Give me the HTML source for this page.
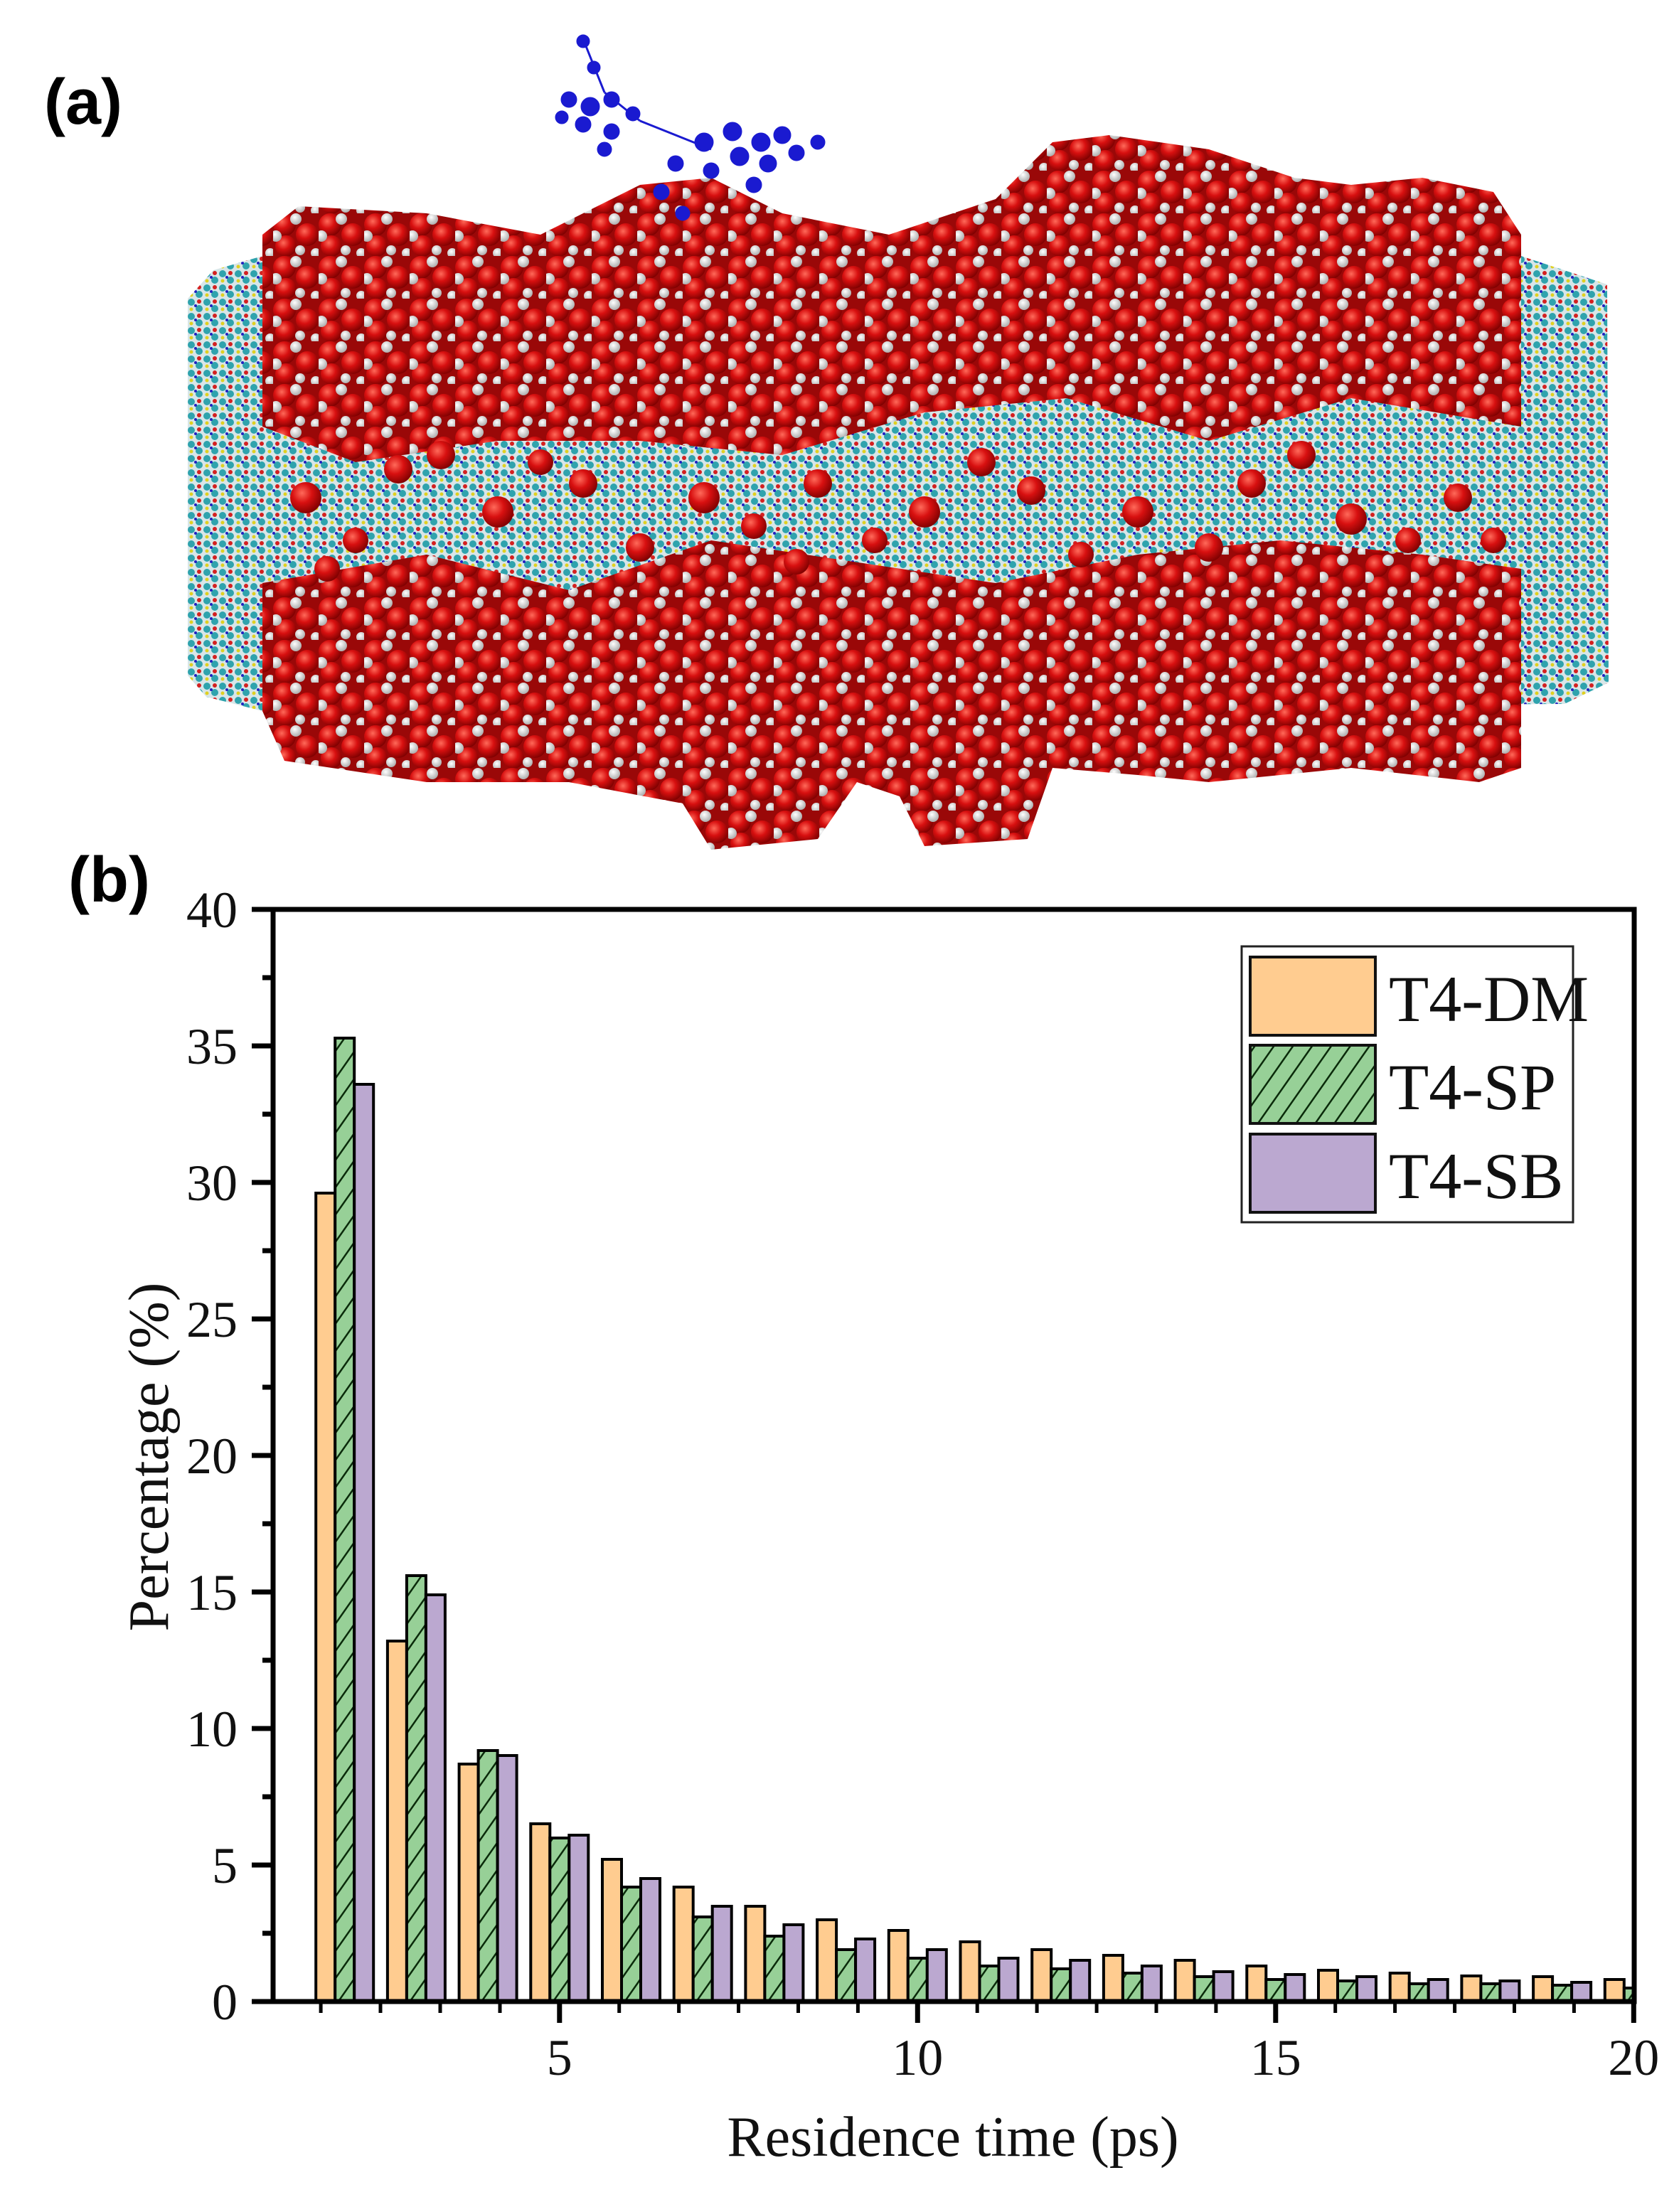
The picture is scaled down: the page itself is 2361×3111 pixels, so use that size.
<!DOCTYPE html>
<html><head><meta charset="utf-8"><style>
html,body{margin:0;padding:0;background:#fff;}
svg{display:block;}
</style></head><body>
<svg width="2361" height="3111" viewBox="0 0 2361 3111" xmlns="http://www.w3.org/2000/svg">
<defs>
<radialGradient id="rg" cx="0.38" cy="0.35" r="0.7">
<stop offset="0" stop-color="#ff6a5a"/><stop offset="0.45" stop-color="#d81010"/><stop offset="1" stop-color="#7a0000"/>
</radialGradient>
<radialGradient id="wg" cx="0.4" cy="0.35" r="0.7">
<stop offset="0" stop-color="#ffffff"/><stop offset="1" stop-color="#a8a8a8"/>
</radialGradient>
<pattern id="water" width="64" height="60" patternUnits="userSpaceOnUse">
<rect width="64" height="60" fill="#9a0808"/>
<circle cx="16" cy="16" r="16" fill="url(#rg)"/>
<circle cx="48" cy="30" r="16" fill="url(#rg)"/>
<circle cx="18" cy="46" r="15" fill="url(#rg)"/>
<circle cx="32" cy="8" r="8" fill="url(#wg)"/>
<circle cx="4" cy="32" r="8" fill="url(#wg)"/>
<circle cx="38" cy="52" r="7" fill="url(#wg)"/>
<circle cx="60" cy="56" r="7" fill="url(#wg)"/>
</pattern>
<pattern id="lipid" width="22" height="20" patternUnits="userSpaceOnUse">
<rect width="22" height="20" fill="#d8e6e8"/>
<circle cx="5" cy="5" r="5" fill="#2fa3ad"/>
<circle cx="16" cy="14" r="5" fill="#2fa3ad"/>
<circle cx="16" cy="4" r="3" fill="#d42020"/>
<circle cx="5" cy="15" r="2.5" fill="#e0d020"/>
<circle cx="11" cy="10" r="2" fill="#2020c0"/>
</pattern>
<pattern id="hatch" width="22" height="22" patternUnits="userSpaceOnUse" patternTransform="rotate(35)">
<rect width="22" height="22" fill="#97d097"/>
<line x1="0" y1="0" x2="0" y2="22" stroke="#0a2a0a" stroke-width="5"/>
</pattern>
<clipPath id="plot"><rect x="384" y="1279" width="1914" height="1536"/></clipPath>
</defs>

<!-- (a) molecular render -->
<text x="62" y="174" font-family="Liberation Sans, sans-serif" font-weight="bold" font-size="90">(a)</text>
<polygon points="264,420 300,380 369,360 2139,360 2260,400 2262,960 2200,990 369,1000 290,980 264,950" fill="url(#lipid)"/>
<polygon points="369,330 420,290 600,300 760,330 900,260 1000,250 1100,300 1250,330 1400,280 1480,200 1560,190 1700,210 1820,250 1900,260 2000,250 2100,270 2139,330 2139,600 1900,560 1700,620 1500,560 1300,580 1100,640 900,620 700,620 500,650 369,600" fill="url(#water)"/>
<polygon points="369,820 600,780 800,830 1000,760 1200,790 1400,820 1600,780 1800,760 2000,780 2139,800 2139,1080 2080,1100 1900,1080 1700,1100 1600,1090 1480,1080 1445,1180 1300,1190 1265,1120 1205,1100 1150,1180 1000,1195 960,1130 800,1100 600,1100 400,1070 369,1000" fill="url(#water)"/>
<g fill="url(#rg)">
<circle cx="430" cy="700" r="22"/><circle cx="560" cy="660" r="20"/><circle cx="700" cy="720" r="22"/><circle cx="820" cy="680" r="20"/>
<circle cx="990" cy="700" r="22"/><circle cx="1150" cy="680" r="20"/><circle cx="1300" cy="720" r="22"/><circle cx="1450" cy="690" r="20"/>
<circle cx="1600" cy="720" r="22"/><circle cx="1760" cy="680" r="20"/><circle cx="1900" cy="730" r="22"/><circle cx="2050" cy="700" r="20"/>
<circle cx="500" cy="760" r="18"/><circle cx="900" cy="770" r="20"/><circle cx="1230" cy="760" r="18"/><circle cx="1700" cy="770" r="20"/><circle cx="1980" cy="760" r="18"/>
<circle cx="620" cy="640" r="20"/><circle cx="760" cy="650" r="18"/><circle cx="1060" cy="740" r="18"/><circle cx="1380" cy="650" r="20"/><circle cx="1520" cy="780" r="18"/><circle cx="1830" cy="640" r="20"/><circle cx="2100" cy="760" r="18"/><circle cx="460" cy="800" r="18"/><circle cx="1120" cy="790" r="18"/>
</g>
<g stroke="#1a1ad0" stroke-width="3" fill="#1a1ad0">
<line x1="820" y1="55" x2="850" y2="130"/><line x1="850" y1="130" x2="900" y2="170"/><line x1="900" y1="170" x2="1000" y2="210"/>
<circle cx="820" cy="58" r="8"/><circle cx="835" cy="95" r="8"/>
<circle cx="800" cy="140" r="10"/><circle cx="830" cy="150" r="12"/><circle cx="860" cy="140" r="10"/><circle cx="820" cy="175" r="10"/><circle cx="860" cy="185" r="10"/><circle cx="890" cy="160" r="9"/><circle cx="790" cy="165" r="8"/><circle cx="850" cy="210" r="9"/>
<circle cx="990" cy="200" r="12"/><circle cx="1030" cy="185" r="12"/><circle cx="1070" cy="200" r="12"/><circle cx="1100" cy="190" r="11"/><circle cx="1040" cy="220" r="12"/><circle cx="1080" cy="230" r="11"/><circle cx="1120" cy="215" r="10"/><circle cx="1000" cy="240" r="10"/><circle cx="1150" cy="200" r="9"/><circle cx="1060" cy="260" r="10"/><circle cx="950" cy="230" r="10"/><circle cx="930" cy="270" r="10"/><circle cx="960" cy="300" r="9"/>
</g>

<!-- (b) chart -->
<text x="96" y="1268" font-family="Liberation Sans, sans-serif" font-weight="bold" font-size="90">(b)</text>

<g clip-path="url(#plot)" stroke="#000" stroke-width="4">
<g transform="translate(484.7,0)"><rect x="-40.5" y="1678" width="27" height="1137" fill="#ffcc90"/><rect x="-13.5" y="1460" width="27" height="1355" fill="url(#hatch)"/><rect x="13.5" y="1525" width="27" height="1290" fill="#bba8d0"/></g>
<g transform="translate(585.4,0)"><rect x="-40.5" y="2308" width="27" height="507" fill="#ffcc90"/><rect x="-13.5" y="2216" width="27" height="599" fill="url(#hatch)"/><rect x="13.5" y="2243" width="27" height="572" fill="#bba8d0"/></g>
<g transform="translate(686.1,0)"><rect x="-40.5" y="2481" width="27" height="334" fill="#ffcc90"/><rect x="-13.5" y="2462" width="27" height="353" fill="url(#hatch)"/><rect x="13.5" y="2469" width="27" height="346" fill="#bba8d0"/></g>
<g transform="translate(786.8,0)"><rect x="-40.5" y="2565" width="27" height="250" fill="#ffcc90"/><rect x="-13.5" y="2585" width="27" height="230" fill="url(#hatch)"/><rect x="13.5" y="2581" width="27" height="234" fill="#bba8d0"/></g>
<g transform="translate(887.5,0)"><rect x="-40.5" y="2615" width="27" height="200" fill="#ffcc90"/><rect x="-13.5" y="2654" width="27" height="161" fill="url(#hatch)"/><rect x="13.5" y="2642" width="27" height="173" fill="#bba8d0"/></g>
<g transform="translate(988.2,0)"><rect x="-40.5" y="2654" width="27" height="161" fill="#ffcc90"/><rect x="-13.5" y="2696" width="27" height="119" fill="url(#hatch)"/><rect x="13.5" y="2681" width="27" height="134" fill="#bba8d0"/></g>
<g transform="translate(1088.9,0)"><rect x="-40.5" y="2681" width="27" height="134" fill="#ffcc90"/><rect x="-13.5" y="2723" width="27" height="92" fill="url(#hatch)"/><rect x="13.5" y="2707" width="27" height="108" fill="#bba8d0"/></g>
<g transform="translate(1189.6,0)"><rect x="-40.5" y="2700" width="27" height="115" fill="#ffcc90"/><rect x="-13.5" y="2742" width="27" height="73" fill="url(#hatch)"/><rect x="13.5" y="2727" width="27" height="88" fill="#bba8d0"/></g>
<g transform="translate(1290.3,0)"><rect x="-40.5" y="2715" width="27" height="100" fill="#ffcc90"/><rect x="-13.5" y="2754" width="27" height="61" fill="url(#hatch)"/><rect x="13.5" y="2742" width="27" height="73" fill="#bba8d0"/></g>
<g transform="translate(1391,0)"><rect x="-40.5" y="2731" width="27" height="84" fill="#ffcc90"/><rect x="-13.5" y="2765" width="27" height="50" fill="url(#hatch)"/><rect x="13.5" y="2754" width="27" height="61" fill="#bba8d0"/></g>
<g transform="translate(1491.7,0)"><rect x="-40.5" y="2742" width="27" height="73" fill="#ffcc90"/><rect x="-13.5" y="2769" width="27" height="46" fill="url(#hatch)"/><rect x="13.5" y="2757" width="27" height="58" fill="#bba8d0"/></g>
<g transform="translate(1592.4,0)"><rect x="-40.5" y="2750" width="27" height="65" fill="#ffcc90"/><rect x="-13.5" y="2775" width="27" height="40" fill="url(#hatch)"/><rect x="13.5" y="2765" width="27" height="50" fill="#bba8d0"/></g>
<g transform="translate(1693.1,0)"><rect x="-40.5" y="2757" width="27" height="58" fill="#ffcc90"/><rect x="-13.5" y="2780" width="27" height="35" fill="url(#hatch)"/><rect x="13.5" y="2773" width="27" height="42" fill="#bba8d0"/></g>
<g transform="translate(1793.8,0)"><rect x="-40.5" y="2765" width="27" height="50" fill="#ffcc90"/><rect x="-13.5" y="2784" width="27" height="31" fill="url(#hatch)"/><rect x="13.5" y="2777" width="27" height="38" fill="#bba8d0"/></g>
<g transform="translate(1894.5,0)"><rect x="-40.5" y="2771" width="27" height="44" fill="#ffcc90"/><rect x="-13.5" y="2786" width="27" height="29" fill="url(#hatch)"/><rect x="13.5" y="2780" width="27" height="35" fill="#bba8d0"/></g>
<g transform="translate(1995.2,0)"><rect x="-40.5" y="2775" width="27" height="40" fill="#ffcc90"/><rect x="-13.5" y="2790" width="27" height="25" fill="url(#hatch)"/><rect x="13.5" y="2784" width="27" height="31" fill="#bba8d0"/></g>
<g transform="translate(2095.9,0)"><rect x="-40.5" y="2779" width="27" height="36" fill="#ffcc90"/><rect x="-13.5" y="2790" width="27" height="25" fill="url(#hatch)"/><rect x="13.5" y="2786" width="27" height="29" fill="#bba8d0"/></g>
<g transform="translate(2196.6,0)"><rect x="-40.5" y="2780" width="27" height="35" fill="#ffcc90"/><rect x="-13.5" y="2792" width="27" height="23" fill="url(#hatch)"/><rect x="13.5" y="2788" width="27" height="27" fill="#bba8d0"/></g>
<g transform="translate(2297.3,0)"><rect x="-40.5" y="2784" width="27" height="31" fill="#ffcc90"/><rect x="-13.5" y="2796" width="27" height="19" fill="url(#hatch)"/></g>
</g>

<!-- axes -->
<rect x="384" y="1279" width="1914" height="1536" fill="none" stroke="#000" stroke-width="7"/>
<g stroke="#000" stroke-width="7">
<line x1="354" y1="2815" x2="384" y2="2815"/><line x1="354" y1="2623" x2="384" y2="2623"/><line x1="354" y1="2431" x2="384" y2="2431"/><line x1="354" y1="2239" x2="384" y2="2239"/><line x1="354" y1="2047" x2="384" y2="2047"/><line x1="354" y1="1855" x2="384" y2="1855"/><line x1="354" y1="1663" x2="384" y2="1663"/><line x1="354" y1="1471" x2="384" y2="1471"/><line x1="354" y1="1279" x2="384" y2="1279"/>
<line x1="369" y1="2719" x2="384" y2="2719"/><line x1="369" y1="2527" x2="384" y2="2527"/><line x1="369" y1="2335" x2="384" y2="2335"/><line x1="369" y1="2143" x2="384" y2="2143"/><line x1="369" y1="1951" x2="384" y2="1951"/><line x1="369" y1="1759" x2="384" y2="1759"/><line x1="369" y1="1567" x2="384" y2="1567"/><line x1="369" y1="1375" x2="384" y2="1375"/>
<line x1="786.8" y1="2815" x2="786.8" y2="2845"/><line x1="1290.3" y1="2815" x2="1290.3" y2="2845"/><line x1="1793.8" y1="2815" x2="1793.8" y2="2845"/><line x1="2297.3" y1="2815" x2="2297.3" y2="2845"/>
</g>
<g stroke="#000" stroke-width="5">
<line x1="451.1" y1="2815" x2="451.1" y2="2831"/><line x1="535" y1="2815" x2="535" y2="2831"/><line x1="619" y1="2815" x2="619" y2="2831"/><line x1="703" y1="2815" x2="703" y2="2831"/>
<line x1="870.7" y1="2815" x2="870.7" y2="2831"/><line x1="954.6" y1="2815" x2="954.6" y2="2831"/><line x1="1038.5" y1="2815" x2="1038.5" y2="2831"/><line x1="1122.5" y1="2815" x2="1122.5" y2="2831"/><line x1="1206.4" y1="2815" x2="1206.4" y2="2831"/>
<line x1="1374.2" y1="2815" x2="1374.2" y2="2831"/><line x1="1458.1" y1="2815" x2="1458.1" y2="2831"/><line x1="1542.1" y1="2815" x2="1542.1" y2="2831"/><line x1="1626" y1="2815" x2="1626" y2="2831"/><line x1="1709.9" y1="2815" x2="1709.9" y2="2831"/>
<line x1="1877.7" y1="2815" x2="1877.7" y2="2831"/><line x1="1961.6" y1="2815" x2="1961.6" y2="2831"/><line x1="2045.6" y1="2815" x2="2045.6" y2="2831"/><line x1="2129.5" y1="2815" x2="2129.5" y2="2831"/><line x1="2213.4" y1="2815" x2="2213.4" y2="2831"/>
</g>

<g font-family="Liberation Serif, serif" font-size="72" fill="#111" text-anchor="end">
<text x="334" y="2840">0</text><text x="334" y="2648">5</text><text x="334" y="2456">10</text><text x="334" y="2264">15</text><text x="334" y="2072">20</text><text x="334" y="1880">25</text><text x="334" y="1688">30</text><text x="334" y="1496">35</text><text x="334" y="1304">40</text>
</g>
<g font-family="Liberation Serif, serif" font-size="72" fill="#111" text-anchor="middle">
<text x="786.8" y="2918">5</text><text x="1290.3" y="2918">10</text><text x="1793.8" y="2918">15</text><text x="2297.3" y="2918">20</text>
</g>
<text x="1340" y="3032" font-family="Liberation Serif, serif" font-size="80" fill="#111" text-anchor="middle">Residence time (ps)</text>
<text transform="translate(236,2049) rotate(-90)" font-family="Liberation Serif, serif" font-size="80" fill="#111" text-anchor="middle">Percentage (%)</text>

<!-- legend -->
<rect x="1746" y="1331" width="466" height="388" fill="#fff" stroke="#222" stroke-width="3"/>
<rect x="1758" y="1346" width="176" height="110" fill="#ffcc90" stroke="#111" stroke-width="4"/>
<rect x="1758" y="1470" width="176" height="110" fill="url(#hatch)" stroke="#111" stroke-width="4"/>
<rect x="1758" y="1595" width="176" height="110" fill="#bba8d0" stroke="#111" stroke-width="4"/>
<g font-family="Liberation Serif, serif" font-size="92" fill="#111">
<text x="1953" y="1436">T4-DM</text><text x="1953" y="1560">T4-SP</text><text x="1953" y="1685">T4-SB</text>
</g>
</svg>
</body></html>
